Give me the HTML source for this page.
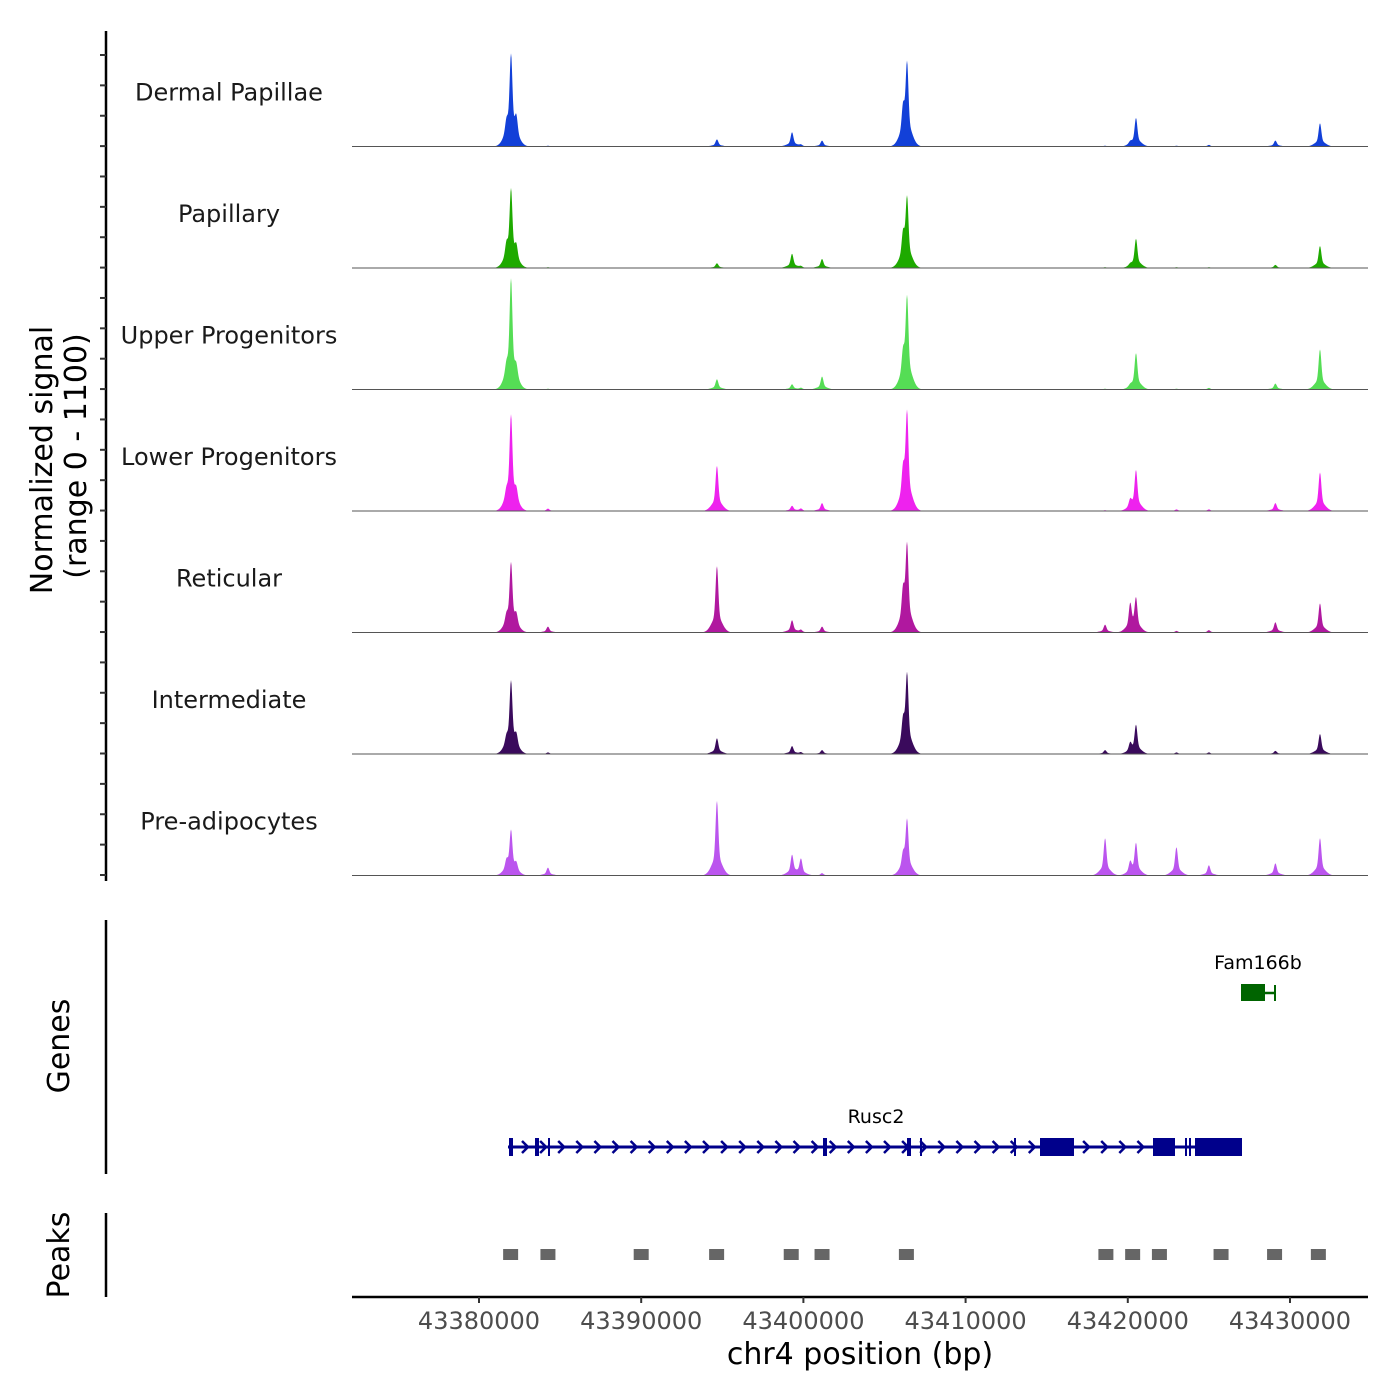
<!DOCTYPE html>
<html><head><meta charset="utf-8"><style>
body{margin:0;background:#fff;}
svg{display:block;font-family:"DejaVu Sans","Liberation Sans",sans-serif;}
</style></head><body>
<svg id="chart" width="1400" height="1400" viewBox="0 0 1400 1400" xmlns="http://www.w3.org/2000/svg">
<rect width="1400" height="1400" fill="#fff"/>
<g id="tracks"></g>
<g id="yaxis"></g>
<text transform="translate(52,460) rotate(-90)" text-anchor="middle" font-size="30" fill="#000">Normalized signal</text>
<text transform="translate(86,456) rotate(-90)" text-anchor="middle" font-size="30" fill="#000">(range 0 - 1100)</text>
<line x1="106" y1="920" x2="106" y2="1174" stroke="#000" stroke-width="2.5"/>
<text transform="translate(69,1046) rotate(-90)" text-anchor="middle" font-size="30">Genes</text>
<line x1="106" y1="1213" x2="106" y2="1297" stroke="#000" stroke-width="2.5"/>
<text transform="translate(69,1255) rotate(-90)" text-anchor="middle" font-size="30">Peaks</text>
<g id="genes"></g>
<g id="peaks"></g>
<g id="xaxis"></g>
<text x="860" y="1364" text-anchor="middle" font-size="30">chr4 position (bp)</text>
</svg>
<script>
const NS='http://www.w3.org/2000/svg';
const xStart=43372170, xEnd=43434810;
const trackNames=['Dermal Papillae','Papillary','Upper Progenitors','Lower Progenitors','Reticular','Intermediate','Pre-adipocytes'];
const trackColors=['#1240d8','#1eaa00','#55dd55','#ee22ee','#b0189f','#3a0a5c','#bb55ee'];
// peak centers (bp)
const peakPos=[43381700,43381973,43382300,43384250,43394670,43399300,43399850,43401150,43406150,43406390,43418600,43420150,43420506,43423000,43425000,43429100,43431850];
// heights per track (signal units), same order as peakPos
const dpVals=[180,1120,250,10,90,180,20,75,380,1020,10,30,360,10,20,75,295];
const papVals=[190,960,180,10,60,180,20,115,340,860,10,20,370,10,10,40,280];
const upVals=[150,1370,150,10,130,65,20,165,340,1140,10,20,460,10,20,75,510];
const lowVals=[120,1190,150,30,575,65,30,100,400,1215,10,100,510,20,20,100,490];
const retVals=[120,860,140,75,845,155,30,75,420,1075,100,330,410,20,30,130,370];
const intVals=[110,900,150,20,200,100,20,50,320,985,50,110,360,20,20,40,255];
const preVals=[130,550,100,100,950,255,205,30,200,690,475,140,400,360,130,155,475];
const tickLabels=['43380000','43390000','43400000','43410000','43420000','43430000'];
const tickVals=[43380000,43390000,43400000,43410000,43420000,43430000];
const peakRegions=[[43381500,43382400],[43383900,43384600],[43389600,43390400],[43394200,43395100],[43398800,43399700],[43400700,43401600],[43405900,43406800],[43418300,43419000],[43419800,43420800],[43421600,43422300],[43425300,43426200],[43428600,43429500],[43431400,43432100]];
const allVals=[dpVals,papVals,upVals,lowVals,retVals,intVals,preVals];

const X0=352,X1=1368, trackH=121.5, firstBase=146.5, maxSig=1100, pxPerMax=86.5;
function xs(bp){return X0+(bp-xStart)/(xEnd-xStart)*(X1-X0);}
function ys(v,base){return base-v/maxSig*pxPerMax;}
function mk(tag,attrs,parent){const e=document.createElementNS(NS,tag);for(const k in attrs)e.setAttribute(k,attrs[k]);parent.appendChild(e);return e;}

const tg=document.getElementById('tracks');
trackNames.forEach((nm,t)=>{
  const base=firstBase+t*trackH;
  const g=mk('g',{},tg);
  
  
  const lbl=mk('text',{x:229,y:base-46,'text-anchor':'middle','font-size':24,fill:'#1a1a1a'},g);
  lbl.textContent=nm;
  
  
  const vals=allVals[t];
  let d='M'+X0+','+base;
  for(let px=X0;px<=X1;px+=0.5){
    let s=0;
    peakPos.forEach((p,i)=>{
      const dx=px-xs(p);
      s+=vals[i]*(0.75*Math.exp(-dx*dx/(2*1.3*1.3))+0.25*Math.exp(-dx*dx/(2*5*5)));
    });
    d+=' L'+px+','+ys(s,base).toFixed(2);
  }
  d+=' L'+X1+','+base+' Z';
  const a=mk('path',{d:d,fill:trackColors[t],stroke:'none'},g);
  
  
  const bl=mk('line',{x1:X0,x2:X1,y1:base,y2:base,stroke:'#555','stroke-width':1},g);
  
  
});

const ya=document.getElementById('yaxis');
mk('line',{x1:106,y1:31,x2:106,y2:881,stroke:'#000','stroke-width':2.5},ya);
for(let i=0;i<28;i++){const y=55+i*30.37;mk('line',{x1:100,x2:106,y1:y,y2:y,stroke:'#333','stroke-width':2},ya);}

// genes
const gg=document.getElementById('genes');
const blue='#00008b', green='#006400';
mk('line',{x1:508,x2:1242,y1:1147,y2:1147,stroke:blue,'stroke-width':3},gg);
for(let x=525;x<1170;x+=18.1){
  if((x>1035&&x<1080)||(x>1148&&x<1180))continue;
  mk('path',{d:`M${x-3},${1141} L${x+3},${1147} L${x-3},${1153}`,fill:'none',stroke:blue,'stroke-width':2.5},gg);
}
[510,512,536,538,549,824,826,908,910,921,1015].forEach(x=>mk('line',{x1:x,x2:x,y1:1138,y2:1156,stroke:blue,'stroke-width':2},gg));
[[1040,1074],[1153,1175],[1195,1242]].forEach(b=>mk('rect',{x:b[0],y:1138,width:b[1]-b[0],height:18,fill:blue},gg));
mk('line',{x1:1186,x2:1186,y1:1138,y2:1156,stroke:blue,'stroke-width':2},gg);
mk('line',{x1:1190,x2:1190,y1:1138,y2:1156,stroke:blue,'stroke-width':2},gg);
const t1=mk('text',{x:876,y:1123,'text-anchor':'middle','font-size':19},gg);t1.textContent='Rusc2';

mk('line',{x1:1241,x2:1275,y1:993,y2:993,stroke:green,'stroke-width':2.5},gg);
mk('rect',{x:1241,y:984,width:24,height:17,fill:green},gg);
mk('line',{x1:1275,x2:1275,y1:985,y2:1001,stroke:green,'stroke-width':2},gg);
const t2=mk('text',{x:1258,y:969,'text-anchor':'middle','font-size':19},gg);t2.textContent='Fam166b';


// peaks
const pg=document.getElementById('peaks');
peakRegions.forEach(r=>{
  const c=(xs(r[0])+xs(r[1]))/2;
  const e=mk('rect',{x:c-7.5,y:1249,width:15,height:11,fill:'#666'},pg);
  
  
});

// x axis
const xa=document.getElementById('xaxis');
mk('line',{x1:X0,x2:X1,y1:1297,y2:1297,stroke:'#000','stroke-width':2.5},xa);
tickVals.forEach((v,i)=>{
  const x=xs(v);
  mk('line',{x1:x,x2:x,y1:1297,y2:1303,stroke:'#333','stroke-width':2},xa);
  const t=mk('text',{x:x,y:1329,'text-anchor':'middle','font-size':24,fill:'#4d4d4d'},xa);
  t.textContent=tickLabels[i];
  
  
});
</script>
</body></html>
